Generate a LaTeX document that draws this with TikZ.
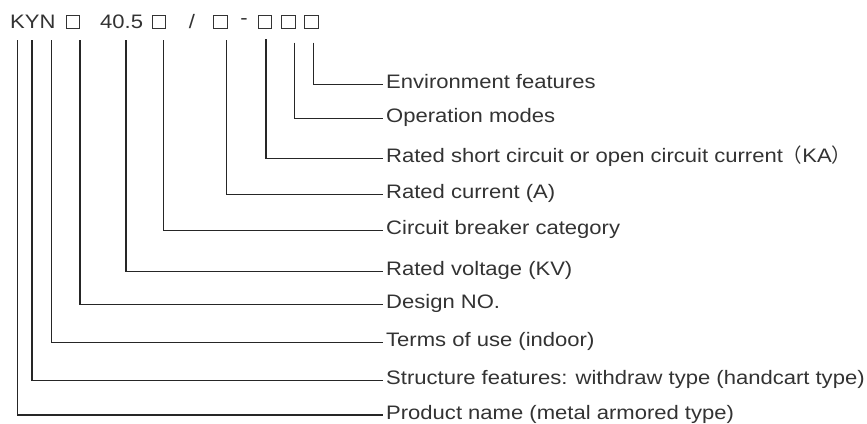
\documentclass[tikz,border=0pt]{standalone}
\usepackage{fontspec}
\setmainfont[FakeStretch=1.13]{Liberation Sans}
\newfontfamily\cjkfont[FakeStretch=1.0]{Noto Sans CJK SC}
\usetikzlibrary{positioning}

\begin{document}
\begin{tikzpicture}[x=1pt,y=-1pt,
  code/.style={font=\fontsize{19.5}{20}\selectfont,text=black!80,inner sep=0pt},
  slot/.style={draw=black!80,line width=1.3pt,minimum size=13.5pt,inner sep=0pt},
  lbl/.style={font=\fontsize{19.5}{20}\selectfont,text=black!80,anchor=west,inner sep=0pt,text height=13pt,text depth=5pt},
  leader/.style={draw=black!85,line width=1.3pt}]
\useasboundingbox[fill=white] (0,0) rectangle (867,423);

% model code
\node[code,anchor=west] (kyn) at (10,22) {KYN};
\node[slot] (s1) at (73,22) {};
\node[code,anchor=west] (volt) at (100,22) {40.5};
\node[slot] (s2) at (159,22) {};
\node[code] (slash) at (192,22) {/};
\node[slot] (s3) at (220.5,22) {};
\node[code] (dash) at (244,22) {-};
\node[slot] (s4) at (265,22) {};
\node[slot] (s5) at (288.5,22) {};
\node[slot] (s6) at (311.5,22) {};

% tops of the leaders
\coordinate (t1) at (17.7,40);
\coordinate (t2) at (32,40);
\coordinate (t3) at (51.7,40);
\coordinate (t4) at (80,40);
\coordinate (t5) at (126,40);
\coordinate (t6) at (163.7,40);
\coordinate (t7) at (226.7,40);
\coordinate (t8) at (266,39);
\coordinate (t9) at (294.3,42.7);
\coordinate (t10) at (313.7,42.7);

% labels
\node[lbl] (env) at (386,84.3) {Environment features};
\node[lbl] (oper) at (386,118.3) {Operation modes};
\node[lbl] (short) at (386,158.3) {Rated short circuit or open circuit current{\cjkfont （}KA{\cjkfont ）}};
\node[lbl] (curr) at (386,194.3) {Rated current (A)};
\node[lbl] (cb) at (386,230.7) {Circuit breaker category};
\node[lbl] (rv) at (386,271.7) {Rated voltage (KV)};
\node[lbl] (design) at (386,304.3) {Design NO.};
\node[lbl] (terms) at (386,342.7) {Terms of use (indoor)};
\node[lbl] (struct) at (386,380.7) {Structure features: withdraw type (handcart type)};
\node[lbl] (prod) at (386,415) {Product name (metal armored type)};

\draw[leader] (t10) |- ([xshift=-3pt]env.west);
\draw[leader] (t9) |- ([xshift=-3pt]oper.west);
\draw[leader] (t8) |- ([xshift=-3pt]short.west);
\draw[leader] (t7) |- ([xshift=-3pt]curr.west);
\draw[leader] (t6) |- ([xshift=-3pt]cb.west);
\draw[leader] (t5) |- ([xshift=-3pt]rv.west);
\draw[leader] (t4) |- ([xshift=-3pt]design.west);
\draw[leader] (t3) |- ([xshift=-3pt]terms.west);
\draw[leader] (t2) |- ([xshift=-3pt]struct.west);
\draw[leader] (t1) |- ([xshift=-3pt]prod.west);

\end{tikzpicture}
\end{document}
